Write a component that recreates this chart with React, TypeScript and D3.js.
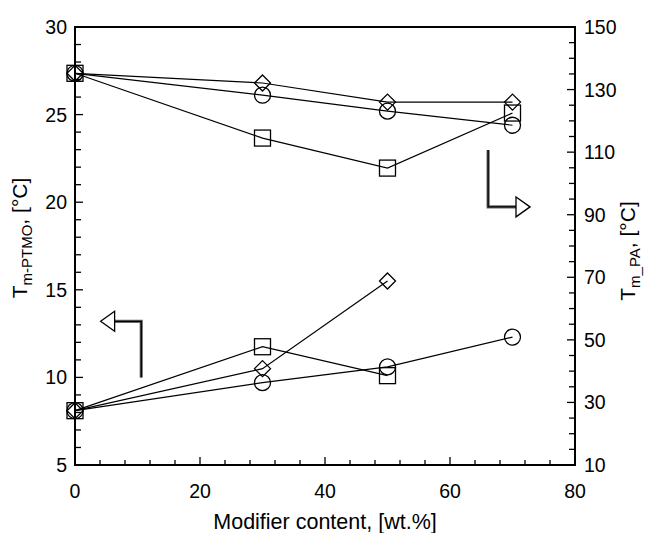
import React, { useEffect, useRef } from 'react';
import * as d3 from 'd3';

// modifier content, wt.%
const xValues = [0, 30, 50, 70];

// T_m of PTMO phase (left axis)
const ptmoSquare = [8.1, 11.75, 10.1];
const ptmoDiamond = [8.1, 10.5, 15.5];
const ptmoCircle = [8.1, 9.7, 10.6, 12.3];

// T_m of PA phase (right axis)
const paSquare = [135.2, 114.5, 104.9, 122.5];
const paDiamond = [135.2, 132.1, 126.0, 126.0];
const paCircle = [135.2, 128.2, 123.1, 118.6];

const xTicks = [0, 20, 40, 60, 80];
const leftTicks = [5, 10, 15, 20, 25, 30];
const rightTicks = [10, 30, 50, 70, 90, 110, 130, 150];

// arrow annotations, in data units
const leftArrow = { x: 10.6, y0: 10, y1: 13.2, tip: 4.1 };
const rightArrow = { x: 66.1, y0: 110.7, y1: 92.5, tip: 72.8 };

const App = () => {
  const width = 645;
  const height = 533;
  const margin = { left: 75, right: 70, top: 27, bottom: 68 };
  const svgRef = useRef(null);

  useEffect(() => {
    const svg = d3.select(svgRef.current);
    svg.selectAll('*').remove();

    const font = 'Liberation Sans, Arial, Helvetica, sans-serif';

    const x = d3.scaleLinear().domain([0, 80]).range([margin.left, width - margin.right]);
    const yL = d3.scaleLinear().domain([5, 30]).range([height - margin.bottom, margin.top]);
    const yR = d3.scaleLinear().domain([10, 150]).range([height - margin.bottom, margin.top]);

    const x0 = x(0), x1 = x(80), yb = yL(5), yt = yL(30);

    // ticks (inward)
    const ticks = svg.append('g').attr('stroke', '#000').attr('stroke-width', 1.3);
    d3.range(0, 81, 4).forEach((v) => {
      const len = v % 20 === 0 ? 8 : 5;
      ticks.append('line').attr('x1', x(v)).attr('x2', x(v)).attr('y1', yb).attr('y2', yb - len);
    });
    d3.range(5, 31, 1).forEach((v) => {
      const len = v % 5 === 0 ? 8 : 6;
      ticks.append('line').attr('x1', x0).attr('x2', x0 + len).attr('y1', yL(v)).attr('y2', yL(v));
    });
    d3.range(10, 151, 5).forEach((v) => {
      const len = (v - 10) % 20 === 0 ? 8 : 6;
      ticks.append('line').attr('x1', x1).attr('x2', x1 - len).attr('y1', yR(v)).attr('y2', yR(v));
    });

    // frame
    svg.append('rect')
      .attr('x', x0).attr('y', yt)
      .attr('width', x1 - x0).attr('height', yb - yt)
      .attr('fill', 'none').attr('stroke', '#000').attr('stroke-width', 2);

    // tick labels
    const labels = svg.append('g').attr('font-family', font).attr('font-size', 19.5).attr('fill', '#000');
    xTicks.forEach((v) => {
      labels.append('text').attr('x', x(v)).attr('y', yb + 33).attr('text-anchor', 'middle').text(v);
    });
    leftTicks.forEach((v) => {
      labels.append('text').attr('x', x0 - 8).attr('y', yL(v) + 7).attr('text-anchor', 'end').text(v);
    });
    rightTicks.forEach((v) => {
      labels.append('text').attr('x', x1 + 9).attr('y', yR(v) + 7).attr('text-anchor', 'start').text(v);
    });

    // axis titles
    svg.append('text')
      .attr('x', (x0 + x1) / 2).attr('y', 529)
      .attr('text-anchor', 'middle').attr('font-family', font).attr('font-size', 21.5)
      .text('Modifier content, [wt.%]');

    const lt = svg.append('text')
      .attr('transform', 'translate(27,238) rotate(-90)')
      .attr('text-anchor', 'middle').attr('font-family', font).attr('font-size', 21);
    lt.append('tspan').text('T');
    lt.append('tspan').attr('font-size', 15).attr('dy', 5).text('m-PTMO');
    lt.append('tspan').attr('dy', -5).text(', [°C]');

    const rt = svg.append('text')
      .attr('transform', 'translate(635,251) rotate(-90)')
      .attr('text-anchor', 'middle').attr('font-family', font).attr('font-size', 21);
    rt.append('tspan').text('T');
    rt.append('tspan').attr('font-size', 15).attr('dy', 5).text('m_PA');
    rt.append('tspan').attr('dy', -5).text(', [°C]');

    // series
    const series = [
      { vals: ptmoSquare, y: yL, shape: 'square' },
      { vals: ptmoDiamond, y: yL, shape: 'diamond' },
      { vals: ptmoCircle, y: yL, shape: 'circle' },
      { vals: paSquare, y: yR, shape: 'square' },
      { vals: paDiamond, y: yR, shape: 'diamond' },
      { vals: paCircle, y: yR, shape: 'circle' },
    ];

    const plot = svg.append('g');
    series.forEach((s) => {
      const pts = s.vals.map((v, i) => [x(xValues[i]), s.y(v)]);
      plot.append('path')
        .attr('d', d3.line()(pts))
        .attr('fill', 'none').attr('stroke', '#000').attr('stroke-width', 1.2);
      pts.forEach(([px, py]) => {
        if (s.shape === 'square') {
          plot.append('rect').attr('x', px - 8).attr('y', py - 8).attr('width', 16).attr('height', 16)
            .attr('fill', 'none').attr('stroke', '#000').attr('stroke-width', 1.3);
        } else if (s.shape === 'circle') {
          plot.append('circle').attr('cx', px).attr('cy', py).attr('r', 8)
            .attr('fill', 'none').attr('stroke', '#000').attr('stroke-width', 1.3);
        } else {
          plot.append('path')
            .attr('d', `M${px},${py - 8}L${px + 8},${py}L${px},${py + 8}L${px - 8},${py}Z`)
            .attr('fill', 'none').attr('stroke', '#000').attr('stroke-width', 1.3);
        }
      });
    });

    // arrows
    const drawArrow = (pts, tip, dir) => {
      plot.append('path').attr('d', d3.line()(pts))
        .attr('fill', 'none').attr('stroke', '#666').attr('stroke-width', 3.2);
      plot.append('path').attr('d', d3.line()(pts))
        .attr('fill', 'none').attr('stroke', '#000').attr('stroke-width', 1.3);
      const [tx, ty] = tip;
      const bx = tx - dir * 14;
      plot.append('path')
        .attr('d', `M${tx},${ty}L${bx},${ty - 10}L${bx},${ty + 10}Z`)
        .attr('fill', '#fff').attr('stroke', '#000').attr('stroke-width', 1.3);
    };

    const la = leftArrow;
    drawArrow(
      [[x(la.x), yL(la.y0)], [x(la.x), yL(la.y1)], [x(la.tip) + 14, yL(la.y1)]],
      [x(la.tip), yL(la.y1)], -1);
    const ra = rightArrow;
    drawArrow(
      [[x(ra.x), yR(ra.y0)], [x(ra.x), yR(ra.y1)], [x(ra.tip) - 14, yR(ra.y1)]],
      [x(ra.tip), yR(ra.y1)], 1);
  });

  return (
    <svg ref={svgRef} width={width} height={height}
      style={{ position: 'absolute', left: 0, top: 0, background: '#fff' }}></svg>
  );
};

export default App;
